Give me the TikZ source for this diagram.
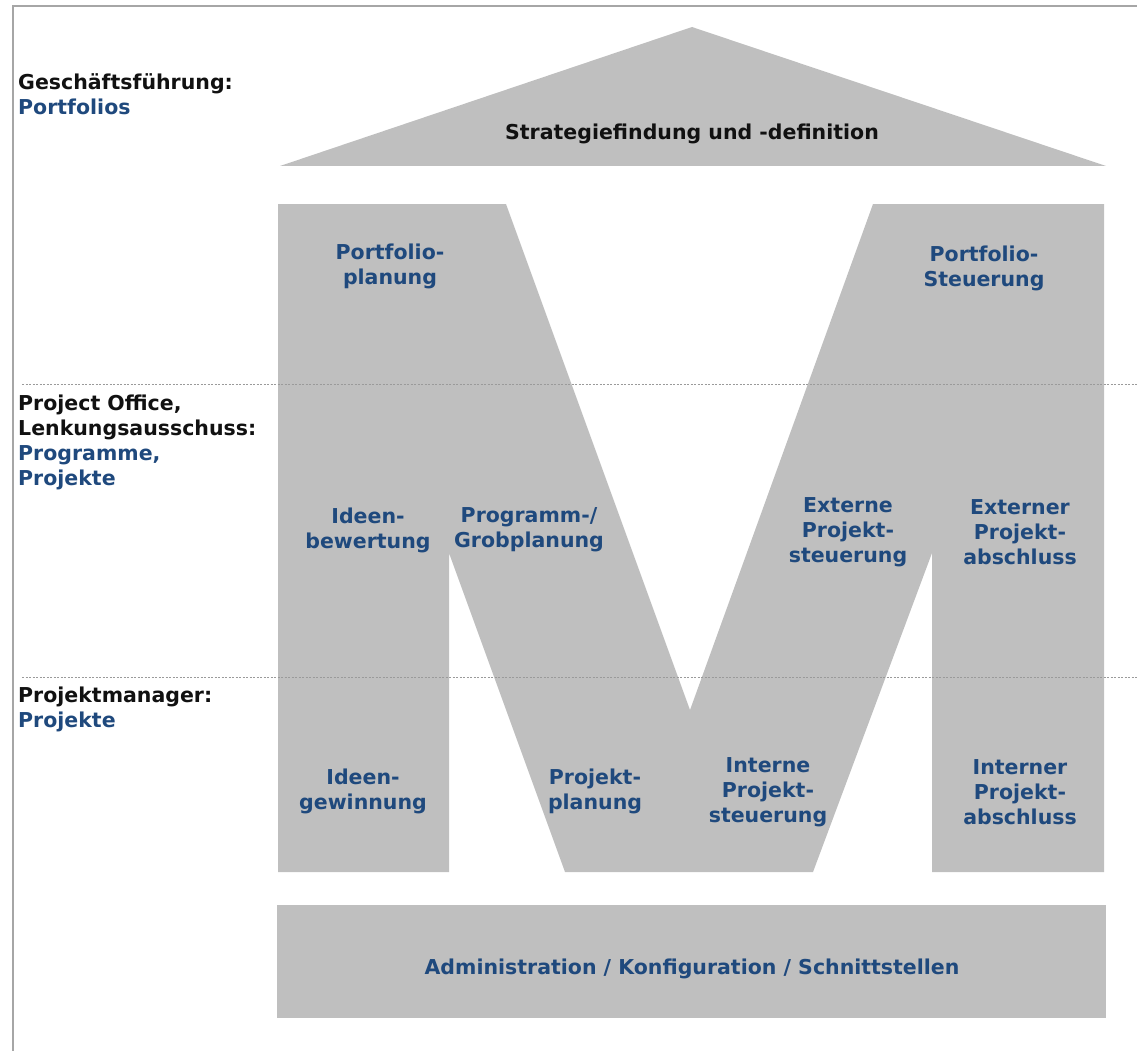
\documentclass[tikz,border=0pt]{standalone}
\usepackage{fontspec}
\setmainfont{DejaVu Sans}
\definecolor{mblue}{HTML}{1F497D}
\definecolor{mgray}{HTML}{BFBFBF}
\definecolor{mblack}{HTML}{111111}
\definecolor{frame}{HTML}{A6A6A6}
\definecolor{dashc}{HTML}{9A9A9A}
\begin{document}
\begin{tikzpicture}[x=1pt,y=-1pt,
  lbl/.style={font=\fontsize{20.5}{25}\selectfont\bfseries, text=mblue, align=center, inner sep=0pt},
  dark/.style={lbl, text=mblack},
  side/.style={font=\fontsize{20.5}{25}\selectfont\bfseries, text=mblack, align=left, anchor=north west, inner sep=0pt},
  area/.style={fill=mgray, draw=none},
  sepline/.style={draw=dashc, dash pattern=on 2pt off 1.5pt, line width=0.8pt},
  border/.style={draw=frame, line width=1.6pt}]
\useasboundingbox (0,0) rectangle (1137,1051);

% frame
\coordinate (fbl) at (13,1051);
\coordinate (ftl) at (13,6);
\coordinate (ftr) at (1137,6);
\draw[border] (fbl) -- (ftl) -- (ftr);

% roof
\fill[area] (280,166) -- (692,27) -- (1106,166) -- cycle;
% M
\fill[area] (278,204) -- (506,204) -- (690,710) -- (873,204) -- (1104,204)
  -- (1104,872) -- (932,872) -- (932,553) -- (813,872) -- (565,872)
  -- (449,553) -- (449,872) -- (278,872) -- cycle;
% base bar
\fill[area] (277,905) rectangle (1106,1018);

% separators
\coordinate (s1a) at (22,384);
\coordinate (s1b) at (1137,384);
\coordinate (s2a) at (22,677);
\coordinate (s2b) at (1137,677);
\draw[sepline] (s1a) -- (s1b);
\draw[sepline] (s2a) -- (s2b);

% side labels
\node[side] (gf) at (18,73) {Geschäftsführung:\\\textcolor{mblue}{Portfolios}};
\node[side] (po) at (18,395) {Project Office,\\Lenkungsausschuss:\\\textcolor{mblue}{Programme,}\\\textcolor{mblue}{Projekte}};
\node[side] (pm) at (18,687) {Projektmanager:\\\textcolor{mblue}{Projekte}};

% labels
\node[dark] (strat) at (692,134) {Strategiefindung und -definition};
\node[lbl] (pp) at (390,266) {Portfolio-\\planung};
\node[lbl] (ps) at (984,268) {Portfolio-\\Steuerung};
\node[lbl] (ib) at (368,530) {Ideen-\\bewertung};
\node[lbl] (gp) at (529,530) {Programm-/\\Grobplanung};
\node[lbl] (eps) at (848,532) {Externe\\Projekt-\\steuerung};
\node[lbl] (epa) at (1020,532) {Externer\\Projekt-\\abschluss};
\node[lbl] (ig) at (363,791) {Ideen-\\gewinnung};
\node[lbl] (ppl) at (595,791) {Projekt-\\planung};
\node[lbl] (ips) at (768,792) {Interne\\Projekt-\\steuerung};
\node[lbl] (ipa) at (1020,792) {Interner\\Projekt-\\abschluss};
\node[lbl] (adm) at (692,969) {Administration / Konfiguration / Schnittstellen};
\end{tikzpicture}
\end{document}
